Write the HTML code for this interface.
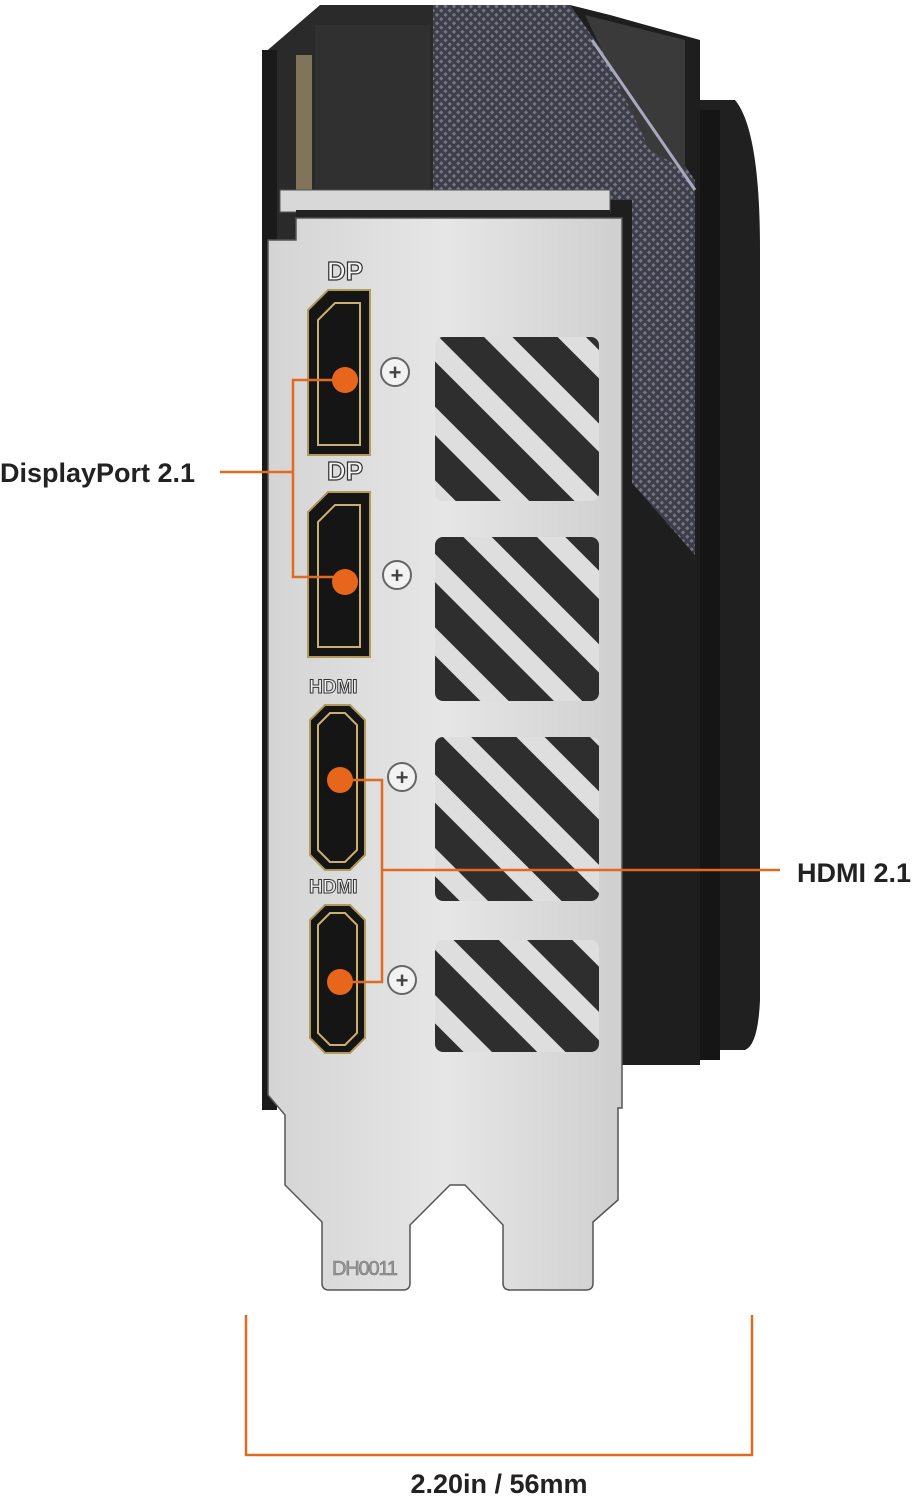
<!DOCTYPE html><html><head><style>body{margin:0;background:#fff}svg{display:block}</style></head><body>
<svg width="921" height="1500" viewBox="0 0 921 1500" xmlns="http://www.w3.org/2000/svg" font-family="Liberation Sans, sans-serif">
<defs>
<pattern id="mesh" width="6" height="6" patternUnits="userSpaceOnUse" patternTransform="rotate(45)"><rect width="6" height="6" fill="#3e3e48"/><rect width="3" height="3" fill="#75758a"/></pattern>
<pattern id="stripe" width="52" height="52" patternUnits="userSpaceOnUse" patternTransform="rotate(-45)"><rect width="52" height="52" fill="#2e2e2e"/><rect width="20" height="52" fill="#dedede"/></pattern>
<linearGradient id="silver" x1="0" x2="1"><stop offset="0" stop-color="#d4d4d4"/><stop offset=".5" stop-color="#e6e6e6"/><stop offset="1" stop-color="#cfcfcf"/></linearGradient>
</defs>
<!-- card body -->
<path d="M735 100 Q760 130 760 250 V1000 Q758 1045 745 1050 H690 V100 Z" fill="#202020"/>
<rect x="700" y="110" width="20" height="950" fill="#151515"/>
<path d="M262 55 L320 5 H435 V300 H262 Z" fill="#2a2a2a"/>
<rect x="262" y="50" width="15" height="1060" fill="#1a1a1a"/>
<rect x="296" y="55" width="16" height="140" fill="#80745a"/>
<rect x="315" y="25" width="115" height="170" fill="#303030"/>
<path d="M433 5 H570 L610 15 L700 40 V1065 H610 V200 H433 Z" fill="#1e1e1e"/>
<path d="M433 5 H570 L595 40 L695 180 V555 L632 483 V200 H433 Z" fill="url(#mesh)"/>
<path d="M585 15 L685 40 V170 L650 150 Z" fill="#3a3a3a"/>
<path d="M592 40 L695 190" stroke="#a8a8c0" stroke-width="3"/>
<!-- bracket -->
<rect x="280" y="190" width="330" height="22" fill="#d8d8d8" stroke="#555"/>
<rect x="296" y="210" width="314" height="8" fill="#222"/>
<path d="M268 240 H296 V218 H622 V1108 H618 V1200 L593 1222 V1283 Q593 1290 586 1290 H510 Q503 1290 503 1283 V1225 L465 1185 H450 L410 1225 V1283 Q410 1290 403 1290 H329 Q322 1290 322 1283 V1222 L285 1185 V1115 L268 1095 Z" fill="url(#silver)" stroke="#555" stroke-width="1.5"/>
<text x="332" y="1275" font-size="20" fill="#9a9a9a" stroke="#777" stroke-width=".6" textLength="66">DH0011</text>
<!-- vents -->
<rect x="435" y="337" width="164" height="164" rx="8" fill="url(#stripe)"/>
<rect x="435" y="537" width="164" height="164" rx="8" fill="url(#stripe)"/>
<rect x="435" y="737" width="164" height="164" rx="8" fill="url(#stripe)"/>
<rect x="435" y="940" width="164" height="112" rx="8" fill="url(#stripe)"/>
<!-- labels on bracket -->
<text x="327" y="280" font-size="26" font-weight="bold" fill="#f4f4f4" stroke="#333" stroke-width="1.2">DP</text>
<text x="327" y="480" font-size="26" font-weight="bold" fill="#f4f4f4" stroke="#333" stroke-width="1.2">DP</text>
<text x="309" y="693" font-size="19" font-weight="bold" fill="#f4f4f4" stroke="#333" stroke-width="1">HDMI</text>
<text x="309" y="893" font-size="19" font-weight="bold" fill="#f4f4f4" stroke="#333" stroke-width="1">HDMI</text>
<!-- ports -->
<g fill="#151515" stroke="#b09a5c" stroke-width="2">
<path d="M308 310 L328 290 H370 V455 H308 Z"/>
<path d="M308 512 L328 492 H370 V657 H308 Z"/>
<path d="M310 720 L325 705 H350 L365 720 V855 L350 870 H325 L310 855 Z"/>
<path d="M310 920 L325 905 H350 L365 920 V1038 L350 1053 H325 L310 1038 Z"/>
</g>
<g fill="none" stroke="#c9b070" stroke-width="2">
<path d="M318 320 L335 303 H360 V445 H318 Z"/>
<path d="M318 522 L335 505 H360 V647 H318 Z"/>
<path d="M318 725 L330 713 H345 L357 725 V850 L345 862 H330 L318 850 Z"/>
<path d="M318 925 L330 913 H345 L357 925 V1033 L345 1045 H330 L318 1033 Z"/>
</g>
<!-- screws -->
<g fill="#f2f2f2" stroke="#666" stroke-width="2">
<circle cx="395" cy="372" r="14"/><circle cx="397" cy="575" r="14"/><circle cx="402" cy="777" r="14"/><circle cx="402" cy="980" r="14"/>
</g>
<g font-size="22" font-weight="bold" fill="#444" text-anchor="middle">
<text x="395" y="380">+</text><text x="397" y="583">+</text><text x="402" y="785">+</text><text x="402" y="988">+</text>
</g>
<!-- callouts -->
<g stroke="#e06a20" stroke-width="2.5" fill="none">
<path d="M345 380 H293 V577 H345"/><path d="M220 472 H293"/>
<path d="M340 780 H382 V982 H340"/><path d="M382 870 H780"/>
<path d="M246 1315 V1455 H752 V1315"/>
</g>
<g fill="#e8661c"><circle cx="345" cy="380" r="13"/><circle cx="345" cy="582" r="13"/><circle cx="340" cy="780" r="13"/><circle cx="340" cy="982" r="13"/></g>
<text x="0" y="482" font-size="27" font-weight="bold" fill="#222">DisplayPort 2.1</text>
<text x="797" y="882" font-size="27" font-weight="bold" fill="#222">HDMI 2.1</text>
<text x="499" y="1493" font-size="27" font-weight="bold" fill="#222" text-anchor="middle">2.20in / 56mm</text>
</svg>
</body></html>
